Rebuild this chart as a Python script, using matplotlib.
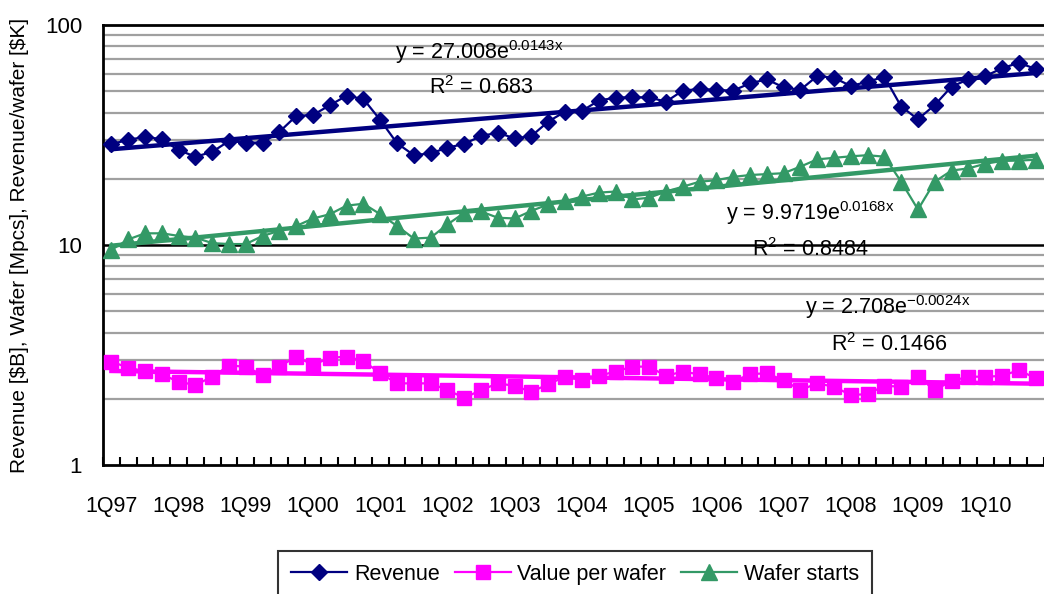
import numpy as np
import matplotlib
matplotlib.use('Agg')
import matplotlib.pyplot as plt
from matplotlib.ticker import FixedLocator, NullFormatter

plt.rcParams['font.family'] = ['Liberation Sans', 'DejaVu Sans']
plt.rcParams['mathtext.fontset'] = 'custom'
plt.rcParams['mathtext.rm'] = 'Liberation Sans'
plt.rcParams['mathtext.it'] = 'Liberation Sans'
plt.rcParams['axes.unicode_minus'] = False

# quarterly data 1Q97 .. 4Q10
revenue = [28.8, 30.0, 31.1, 30.2, 27.0, 25.2, 26.5, 29.7, 29.2, 29.2, 32.7, 38.6, 39.0, 43.2,
           47.7, 46.1, 37.0, 29.0, 25.6, 26.1, 27.7, 28.8, 31.3, 32.4, 30.5, 31.3, 36.4, 40.4,
           40.7, 45.3, 46.8, 46.9, 46.9, 44.8, 50.3, 51.2, 50.7, 50.3, 54.3, 56.6, 52.1, 50.7,
           58.6, 57.6, 52.8, 55.2, 58.2, 42.6, 37.3, 43.3, 52.5, 56.6, 58.6, 63.5, 67.4, 63.1]
value_per_wafer = [2.95, 2.77, 2.67, 2.58, 2.39, 2.31, 2.52, 2.83, 2.80, 2.56, 2.80, 3.11, 2.85, 3.07,
                   3.11, 2.97, 2.61, 2.35, 2.35, 2.35, 2.19, 2.02, 2.19, 2.35, 2.29, 2.15, 2.33, 2.52,
                   2.43, 2.54, 2.66, 2.80, 2.80, 2.54, 2.66, 2.58, 2.49, 2.39, 2.59, 2.61, 2.43, 2.19,
                   2.35, 2.27, 2.08, 2.10, 2.29, 2.27, 2.52, 2.19, 2.41, 2.52, 2.52, 2.54, 2.70, 2.48]
wafer_starts = [9.5, 10.6, 11.3, 11.3, 11.0, 10.8, 10.2, 10.1, 10.1, 11.0, 11.6, 12.2, 13.2, 13.8,
                15.1, 15.4, 13.8, 12.2, 10.7, 10.8, 12.4, 14.0, 14.2, 13.3, 13.2, 14.3, 15.3, 15.8,
                16.6, 17.3, 17.5, 16.1, 16.4, 17.5, 18.4, 19.4, 19.7, 20.4, 20.8, 21.0, 21.2, 22.7,
                24.5, 24.9, 25.3, 25.6, 25.2, 19.4, 14.5, 19.4, 21.8, 22.3, 23.4, 24.1, 24.2, 24.4]
year_labels = ['1Q97', '1Q98', '1Q99', '1Q00', '1Q01', '1Q02', '1Q03',
               '1Q04', '1Q05', '1Q06', '1Q07', '1Q08', '1Q09', '1Q10']
trend_texts = [('y = 27.008e$^{\\mathrm{0.0143x}}$', 'R$^{\\mathrm{2}}$ = 0.683'),
               ('y = 9.9719e$^{\\mathrm{0.0168x}}$', 'R$^{\\mathrm{2}}$ = 0.8484'),
               ('y = 2.708e$^{\\mathrm{-0.0024x}}$', 'R$^{\\mathrm{2}}$ = 0.1466')]

x = np.arange(len(revenue))

fig = plt.figure(figsize=(10.44, 5.94), dpi=100)
ax = fig.add_axes([103/1044, 129/594, 941/1044, 440/594])
ax.set_yscale('log')
ax.set_ylim(1, 100)
ax.set_xlim(-0.5, len(x) - 0.5)

# grid
for k in range(1, 3):
    for m in range(2, 10):
        ax.axhline(m * 10**(k-1), color='#a0a0a0', lw=1.6, zorder=0)
ax.axhline(10, color='black', lw=1.8, zorder=0.5)

series = [
    (revenue, '#000080', 'D', 8.5, 'Revenue'),
    (value_per_wafer, '#ff00ff', 's', 10.5, 'Value per wafer'),
    (wafer_starts, '#339966', '^', 11, 'Wafer starts'),
]
handles = []
for vals, col, mk, ms, lab in series:
    h, = ax.plot(x, vals, color=col, lw=1.6, marker=mk, ms=ms, mec=col, mfc=col,
                 label=lab, zorder=3, clip_on=False)
    handles.append(h)
    # exponential trendline (least squares on log values, x = 1..n like Excel)
    b, lna = np.polyfit(x + 1, np.log(vals), 1)
    ax.plot(x, np.exp(lna) * np.exp(b * (x + 1)), color=col, lw=3.2, zorder=4)

# trendline equations (centre positions, axes fraction)
pos = [((0.4, 0.939), (0.402, 0.857)),
       ((0.752, 0.573), (0.752, 0.489)),
       ((0.834, 0.359), (0.835, 0.273))]
for (eq, r2), (p1, p2) in zip(trend_texts, pos):
    ax.text(p1[0], p1[1], eq, transform=ax.transAxes, fontsize=15.5,
            ha='center', va='center', zorder=5)
    ax.text(p2[0], p2[1], r2, transform=ax.transAxes, fontsize=15.5,
            ha='center', va='center', zorder=5)

# axes / ticks
for s in ['left', 'bottom', 'top']:
    ax.spines[s].set_linewidth(2)
    ax.spines[s].set_color('black')
ax.spines['right'].set_visible(False)

ax.xaxis.set_major_locator(FixedLocator(x[::4]))
ax.set_xticklabels(year_labels)
ax.xaxis.set_minor_locator(FixedLocator(np.arange(len(x) + 1) - 0.5))
ax.xaxis.set_minor_formatter(NullFormatter())
ax.tick_params(axis='x', which='major', length=0, pad=22, labelsize=15.5)
ax.tick_params(axis='x', which='minor', direction='in', length=6, width=1.5)

ax.yaxis.set_major_locator(FixedLocator([1, 10, 100]))
ax.set_yticklabels(['1', '10', '100'])
ax.yaxis.set_minor_locator(FixedLocator([]))
ax.tick_params(axis='y', which='major', length=0, pad=15, labelsize=16)

ax.set_ylabel('Revenue [\\$B], Wafer [Mpcs], Revenue/wafer [\\$K]', fontsize=15)
ax.yaxis.set_label_coords(-0.079, 0.5)

leg = fig.legend(handles=handles, loc='upper center', bbox_to_anchor=(575/1044, 1 - 551/594),
                 borderaxespad=0, ncol=3, fontsize=15.5, frameon=True, fancybox=False,
                 edgecolor='black', handlelength=2.6, handletextpad=0.3, columnspacing=0.7,
                 borderpad=0.6)
leg.get_frame().set_linewidth(1.5)

fig.savefig('out.png', dpi=100)
